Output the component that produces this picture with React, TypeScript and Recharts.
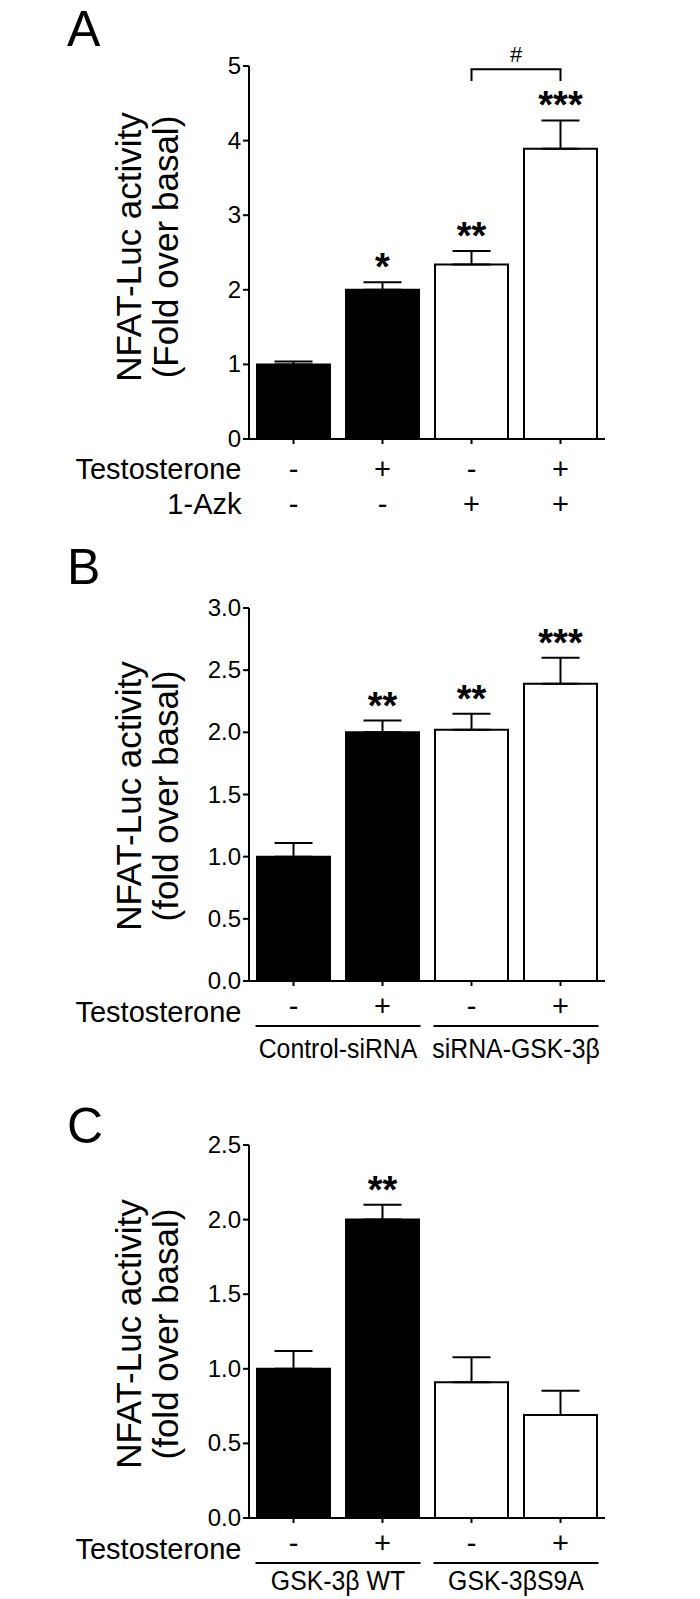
import { BarChart, Bar, XAxis, YAxis, Cell, ErrorBar, LabelList, ReferenceLine } from "recharts";

const FONT = "'Liberation Sans', Arial, Helvetica, sans-serif";

// Panel A
const groupsA = ["a1", "a2", "a3", "a4"];
const valuesA = [1.0, 2.0, 2.34, 3.89];
const errorsA = [0.04, 0.1, 0.18, 0.38];
const starsA = ["", "*", "**", "***"];
const testoA = ["-", "+", "-", "+"];
const azkA = ["-", "-", "+", "+"];
const ticksA = [0, 1, 2, 3, 4, 5];
const bracketA = { from: "a3", to: "a4", low: 4.8, high: 4.956, mark: "#" };

// Panel B
const groupsB = ["b1", "b2", "b3", "b4"];
const valuesB = [1.0, 2.0, 2.02, 2.39];
const errorsB = [0.11, 0.095, 0.13, 0.21];
const starsB = ["", "**", "**", "***"];
const testoB = ["-", "+", "-", "+"];
const groupNamesB = ["Control-siRNA", "siRNA-GSK-3β"];
const ticksB = [0, 0.5, 1, 1.5, 2, 2.5, 3];

// Panel C
const groupsC = ["c1", "c2", "c3", "c4"];
const valuesC = [1.0, 2.0, 0.91, 0.69];
const errorsC = [0.12, 0.1, 0.167, 0.163];
const starsC = ["", "**", "", ""];
const testoC = ["-", "+", "-", "+"];
const groupNamesC = ["GSK-3β WT", "GSK-3βS9A"];
const ticksC = [0, 0.5, 1, 1.5, 2, 2.5];

const fills = ["#000", "#000", "#fff", "#fff"];
const BAND = 89;
const HALF_BAR = 37;

const makeRows = (groups: string[], values: number[], errors: number[], stars: string[]) =>
  groups.map((g, i) => ({ group: g, value: values[i], err: [0, errors[i]], stars: stars[i] }));

const starLabel = (values: number[], errors: number[]) => (props: any) => {
  const vb = props.viewBox ?? props;
  const i = props.index;
  const txt = props.value;
  if (!txt) return null;
  const x = vb.x + vb.width / 2;
  const pxPerUnit = Math.abs(vb.height) / values[i];
  const errTop = Math.min(vb.y, vb.y + vb.height) - errors[i] * pxPerUnit;
  return (
    <text x={x} y={errTop - 2} textAnchor="middle" fontSize={38} fontWeight="bold" fontFamily={FONT} fill="#000">
      {txt}
    </text>
  );
};

const BracketShape = (props: any) => {
  const { x1, y1, x2, y2 } = props;
  return (
    <g>
      <path d={`M${x1},${y1} V${y2} H${x2} V${y1}`} stroke="#000" strokeWidth={2} fill="none" />
      <text x={(x1 + x2) / 2} y={y2 - 7} textAnchor="middle" fontSize={22} fontFamily={FONT} fill="#000">
        {bracketA.mark}
      </text>
    </g>
  );
};

const tickA = (p: any) => {
  const { x, y, index } = p;
  return (
    <g fontFamily={FONT} fontSize={29} fill="#000">
      <text x={x} y={y + 35} textAnchor="middle">{testoA[index]}</text>
      <text x={x} y={y + 70} textAnchor="middle">{azkA[index]}</text>
      {index === 0 && (
        <>
          <text x={x - 52} y={y + 35} textAnchor="end">Testosterone</text>
          <text x={x - 52} y={y + 70} textAnchor="end">1-Azk</text>
        </>
      )}
    </g>
  );
};

const groupTick = (signs: string[], names: string[], nameDy: number) => (p: any) => {
  const { x, y, index } = p;
  return (
    <g fontFamily={FONT} fill="#000">
      <text x={x} y={y + 30} textAnchor="middle" fontSize={29}>{signs[index]}</text>
      {index === 0 && (
        <text x={x - 52} y={y + 36} textAnchor="end" fontSize={29}>Testosterone</text>
      )}
      {index % 2 === 0 && (
        <>
          <line x1={x - HALF_BAR - 1} x2={x + BAND + HALF_BAR + 1} y1={y + 40} y2={y + 40} stroke="#000" strokeWidth={2} />
          <text
            transform={`translate(${x + BAND / 2}, ${y + nameDy}) scale(0.92, 1)`}
            x={0}
            y={0}
            textAnchor="middle"
            fontSize={27}
          >
            {names[index / 2]}
          </text>
        </>
      )}
    </g>
  );
};

const yTick = (decimals: number) => (p: any) => (
  <text x={p.x} y={p.y} dy={8} textAnchor="end" fontSize={24} fontFamily={FONT} fill="#000">
    {Number(p.payload.value).toFixed(decimals)}
  </text>
);

const Overlay = ({ letter, lx, ly, lines, cx, cy, h }: any) => (
  <svg width={700} height={h} style={{ position: "absolute", left: 0, top: 0, pointerEvents: "none" }}>
    <text x={lx} y={ly} fontSize={50} fontFamily={FONT} fill="#000">{letter}</text>
    <text transform={`rotate(-90, ${cx}, ${cy})`} x={cx} y={cy} textAnchor="middle" fontSize={35} fontFamily={FONT} fill="#000">
      <tspan x={cx} dy={0}>{lines[0]}</tspan>
      <tspan x={cx} dy={37}>{lines[1]}</tspan>
    </text>
  </svg>
);

const axisLine = { stroke: "#000", strokeWidth: 2 };

const Panel = ({ top, height, margin, yWidth, xHeight, rows, values, errors, domain, ticks, decimals, tick, children, overlay }: any) => (
  <div style={{ position: "absolute", left: 0, top, width: 700, height }}>
    <BarChart width={700} height={height} data={rows} margin={margin}>
      <XAxis
        dataKey="group"
        height={xHeight}
        axisLine={axisLine}
        tickLine={axisLine}
        tickSize={5}
        tickMargin={0}
        interval={0}
        tick={tick}
      />
      <YAxis
        width={yWidth}
        domain={domain}
        ticks={ticks}
        allowDataOverflow
        axisLine={axisLine}
        tickLine={axisLine}
        tickSize={6}
        tickMargin={2}
        interval={0}
        tick={yTick(decimals)}
      />
      <Bar dataKey="value" barSize={73} stroke="#000" strokeWidth={2} isAnimationActive={false}>
        {rows.map((r: any, i: number) => (
          <Cell key={r.group} fill={fills[i]} />
        ))}
        <ErrorBar dataKey="err" width={19} stroke="#000" strokeWidth={2} direction="y" isAnimationActive={false} />
        <LabelList dataKey="stars" content={starLabel(values, errors)} />
      </Bar>
      {children}
    </BarChart>
    {overlay}
  </div>
);

export default function App() {
  const rowsA = makeRows(groupsA, valuesA, errorsA, starsA);
  const rowsB = makeRows(groupsB, valuesB, errorsB, starsB);
  const rowsC = makeRows(groupsC, valuesC, errorsC, starsC);
  return (
    <div style={{ position: "absolute", left: 0, top: 0, width: 700, height: 1599, background: "#fff" }}>
      <Panel
        top={0}
        height={530}
        margin={{ top: 66, right: 95, left: 0, bottom: 0 }}
        yWidth={249}
        xHeight={91}
        rows={rowsA}
        values={valuesA}
        errors={errorsA}
        domain={[0, 5]}
        ticks={ticksA}
        decimals={0}
        tick={tickA}
        overlay={<Overlay letter="A" lx={67} ly={46} lines={["NFAT-Luc activity", "(Fold over basal)"]} cx={141} cy={247} h={530} />}
      >
        <ReferenceLine
          segment={[
            { x: bracketA.from, y: bracketA.low },
            { x: bracketA.to, y: bracketA.high },
          ]}
          ifOverflow="visible"
          shape={BracketShape}
        />
      </Panel>
      <Panel
        top={530}
        height={540}
        margin={{ top: 78, right: 95, left: 0, bottom: 0 }}
        yWidth={249}
        xHeight={89}
        rows={rowsB}
        values={valuesB}
        errors={errorsB}
        domain={[0, 3]}
        ticks={ticksB}
        decimals={1}
        tick={groupTick(testoB, groupNamesB, 72)}
        overlay={<Overlay letter="B" lx={67} ly={54} lines={["NFAT-Luc activity", "(fold over basal)"]} cx={141} cy={266} h={540} />}
      />
      <Panel
        top={1070}
        height={529}
        margin={{ top: 75, right: 95, left: 0, bottom: 0 }}
        yWidth={249}
        xHeight={81}
        rows={rowsC}
        values={valuesC}
        errors={errorsC}
        domain={[0, 2.5]}
        ticks={ticksC}
        decimals={1}
        tick={groupTick(testoC, groupNamesC, 67)}
        overlay={<Overlay letter="C" lx={67} ly={73} lines={["NFAT-Luc activity", "(fold over basal)"]} cx={141} cy={264} h={529} />}
      />
    </div>
  );
}
